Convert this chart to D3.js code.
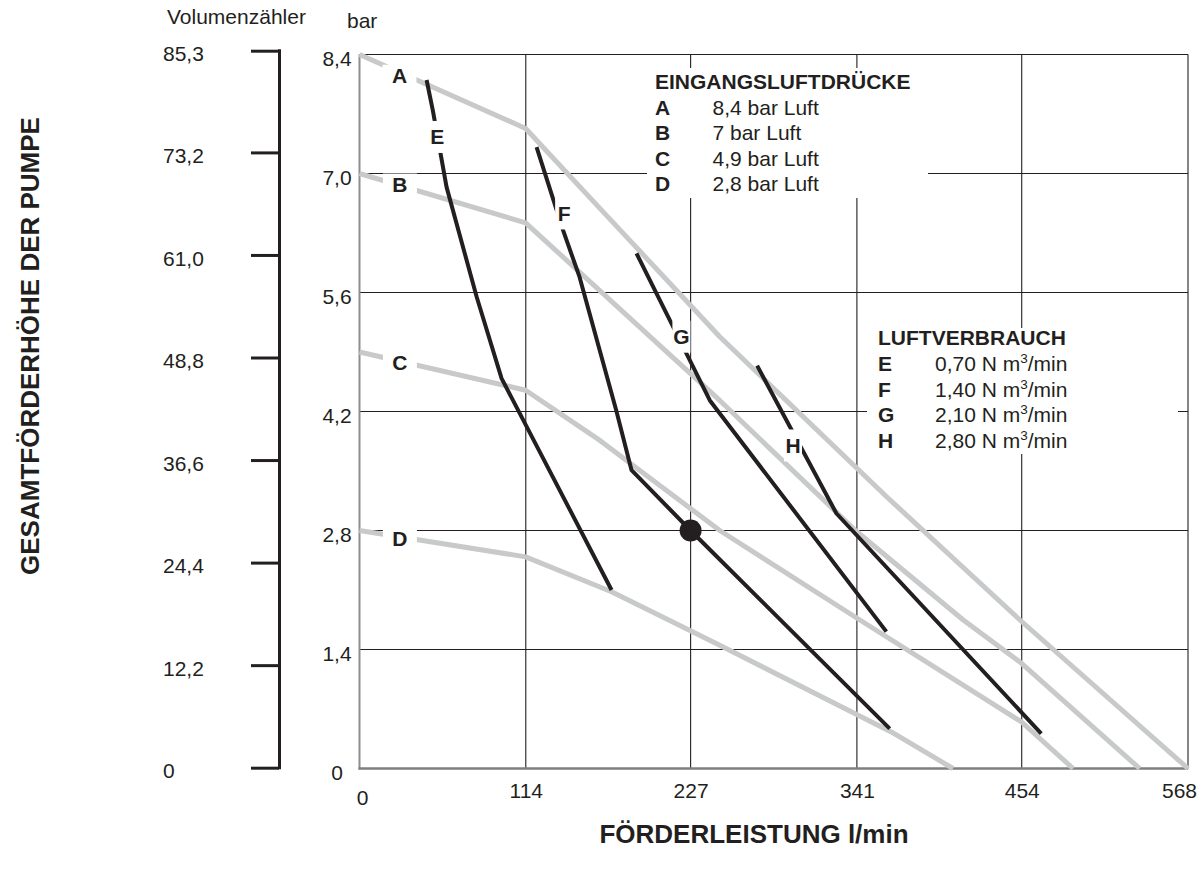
<!DOCTYPE html>
<html><head><meta charset="utf-8">
<script src="https://cdn.jsdelivr.net/npm/d3@7"></script>
<style>
html,body{margin:0;padding:0;background:#fff;}
text{font-family:"Liberation Sans",Arial,Helvetica,sans-serif;fill:#231f20;}
</style></head>
<body>
<svg id="chart" width="1200" height="872"></svg>
<script>
// ---- data ----
const xTicks = [0, 114, 227, 341, 454, 568];
const yTicks = [0, 1.4, 2.8, 4.2, 5.6, 7.0, 8.4];
const yTickLabels = ["0", "1,4", "2,8", "4,2", "5,6", "7,0", "8,4"];
const volTicks = [0, 12.2, 24.4, 36.6, 48.8, 61.0, 73.2, 85.3];
const volTickLabels = ["0", "12,2", "24,4", "36,6", "48,8", "61,0", "73,2", "85,3"];

// air inlet pressure curves (l/min, bar)
const curveA = [[0, 8.4], [113.9, 7.53], [164.8, 6.59], [247, 5.08], [361.2, 3.20], [452.6, 1.75], [568, 0]];
const curveB = [[0, 7.0], [113.9, 6.42], [247, 4.33], [340, 2.8], [413.7, 1.75], [453.7, 1.24], [534.8, 0]];
const curveC = [[0, 4.9], [113.9, 4.45], [164.8, 3.86], [247, 2.80], [342.8, 1.75], [453.7, 0.55], [489.2, 0]];
const curveD = [[0, 2.8], [113.9, 2.49], [172.8, 2.08], [247, 1.45], [364.6, 0.43], [406.9, 0]];
// air consumption curves
const curveE = [[46, 8.1], [50.3, 7.74], [59.7, 6.84], [80.3, 5.55], [97.4, 4.59], [172.8, 2.10]];
const curveF = [[121.4, 7.31], [139.6, 6.33], [150.9, 5.78], [175.9, 4.22], [186.5, 3.51], [227, 2.8], [363.5, 0.47]];
const curveG = [[189.9, 6.06], [240.2, 4.33], [361.2, 1.61]];
const curveH = [[272.6, 4.74], [327, 3.0], [467.4, 0.41]];
const markPoint = [227, 2.8];

const pressureKeys = ["A", "B", "C", "D"];
const pressureText = ["8,4 bar Luft", "7 bar Luft", "4,9 bar Luft", "2,8 bar Luft"];
const airKeys = ["E", "F", "G", "H"];
const airText = ["0,70", "1,40", "2,10", "2,80"];
// curve label anchor points (data units)
const pressureLabelPos = [[27.4, 8.15], [27.7, 6.87], [27.7, 4.78], [27.7, 2.71]];
const airLabelPos = [[53.3, 7.43], [140.3, 6.53], [220.7, 5.08], [297.2, 3.80]];

// ---- drawing ----
const svg = d3.select("#chart");
const x = d3.scaleLinear().domain([0, 568]).range([359.5, 1188]);
const y = d3.scaleLinear().domain([0, 8.4]).range([768.5, 54.5]);
const vol = d3.scaleLinear().domain([0, 85.3]).range([767.7, 50.7]);
const ink = "#231f20", gray = "#c8c9ca";
const tickFont = 21;

// gridlines
const grid = svg.append("g");
grid.selectAll(".gx").data(xTicks.slice(1, -1)).join("line")
  .attr("x1", d => x(d)).attr("x2", d => x(d)).attr("y1", y(0)).attr("y2", y(8.4))
  .attr("stroke", ink).attr("stroke-width", 1.1);
grid.selectAll(".gy").data(yTicks.slice(1, -1)).join("line")
  .attr("x1", x(0)).attr("x2", x(568)).attr("y1", d => y(d)).attr("y2", d => y(d))
  .attr("stroke", ink).attr("stroke-width", 1.1);
// frame
grid.append("line").attr("x1", x(0)).attr("x2", x(568)).attr("y1", y(8.4)).attr("y2", y(8.4)).attr("stroke", ink).attr("stroke-width", 1.1);
grid.append("line").attr("x1", x(568)).attr("x2", x(568)).attr("y1", y(0)).attr("y2", y(8.4)).attr("stroke", ink).attr("stroke-width", 1.1);
grid.append("line").attr("x1", x(0)).attr("x2", x(0)).attr("y1", y(0) + 1).attr("y2", y(8.4)).attr("stroke", "#8e8e8e").attr("stroke-width", 2);
grid.append("line").attr("x1", x(0) - 1).attr("x2", x(568)).attr("y1", y(0)).attr("y2", y(0)).attr("stroke", "#7f7f7f").attr("stroke-width", 2.5);

// legend background boxes
svg.append("rect").attr("x", 647).attr("y", 68).attr("width", 281).attr("height", 130).attr("fill", "#fff");
svg.append("rect").attr("x", 867).attr("y", 328).attr("width", 311).attr("height", 126).attr("fill", "#fff");

const line = d3.line().x(d => x(d[0])).y(d => y(d[1]));
const grayCurves = [curveA, curveB, curveC, curveD];
const blackCurves = [curveE, curveF, curveG, curveH];
svg.append("g").selectAll("path").data(grayCurves).join("path")
  .attr("d", line).attr("fill", "none").attr("stroke", gray).attr("stroke-width", 5)
  .attr("stroke-linejoin", "round");
svg.append("g").selectAll("path").data(blackCurves).join("path")
  .attr("d", line).attr("fill", "none").attr("stroke", ink).attr("stroke-width", 4)
  .attr("stroke-linejoin", "round");
svg.append("circle").attr("cx", x(markPoint[0])).attr("cy", y(markPoint[1])).attr("r", 11).attr("fill", ink);

// curve labels with white gaps
const lab = svg.append("g");
pressureKeys.forEach((k, i) => {
  const px = x(pressureLabelPos[i][0]), py = y(pressureLabelPos[i][1]);
  lab.append("rect").attr("x", px - 17).attr("y", py - 11).attr("width", 34).attr("height", 22).attr("fill", "#fff");
  lab.append("text").attr("x", px).attr("y", py + 7.5).attr("text-anchor", "middle")
    .attr("font-size", 21).attr("font-weight", "bold").text(k);
});
airKeys.forEach((k, i) => {
  const px = x(airLabelPos[i][0]), py = y(airLabelPos[i][1]);
  lab.append("rect").attr("x", px - 9).attr("y", py - 16).attr("width", 18).attr("height", 32).attr("fill", "#fff");
  lab.append("text").attr("x", px).attr("y", py + 7.5).attr("text-anchor", "middle")
    .attr("font-size", 21).attr("font-weight", "bold").text(k);
});

// axes tick labels
const xAxis = d3.axisBottom(x).tickValues(xTicks).tickSize(0).tickPadding(0).tickFormat(d => String(d));
const gx = svg.append("g").attr("transform", "translate(0,798)").call(xAxis);
gx.select(".domain").remove();
gx.selectAll("text").attr("dy", 0).attr("y", 0).attr("font-size", tickFont).attr("fill", ink)
  .attr("font-family", null);
gx.selectAll("text").filter(d => d === 0).attr("y", 7).attr("dx", 2.5);
gx.selectAll("text").filter(d => d === 568).attr("dx", -9);

const yAxis = d3.axisLeft(y).tickValues(yTicks).tickSize(0).tickPadding(0)
  .tickFormat((d, i) => yTickLabels[i]);
const gy = svg.append("g").attr("transform", "translate(337,0)").call(yAxis);
gy.select(".domain").remove();
gy.selectAll("text").attr("text-anchor", "middle").attr("x", 0).attr("dy", "0.5em")
  .attr("font-size", tickFont).attr("fill", ink).attr("font-family", null);

// volume scale (left)
const vAxis = d3.axisLeft(vol).tickValues(volTicks).tickSize(28).tickPadding(0)
  .tickFormat((d, i) => volTickLabels[i]);
const gv = svg.append("g").attr("transform", "translate(279,0)").call(vAxis);
gv.select(".domain").attr("stroke", ink).attr("stroke-width", 3).attr("d", `M0.5,${vol(0) + 1.5}V${vol(85.3) - 1.5}`);
gv.selectAll(".tick line").attr("stroke", ink).attr("stroke-width", 3);
gv.selectAll("text").attr("text-anchor", "start").attr("x", 163 - 279).attr("dy", "0.48em")
  .attr("font-size", tickFont).attr("fill", ink).attr("font-family", null);

// unit labels
svg.append("text").attr("x", 167).attr("y", 24).attr("font-size", tickFont).text("Volumenzähler");
svg.append("text").attr("x", 347).attr("y", 28).attr("font-size", tickFont).text("bar");

// axis titles
svg.append("text").attr("transform", "translate(39,346) rotate(-90)").attr("text-anchor", "middle")
  .attr("font-size", 26).attr("font-weight", "bold").text("GESAMTFÖRDERHÖHE DER PUMPE");
svg.append("text").attr("x", 754).attr("y", 843).attr("text-anchor", "middle")
  .attr("font-size", 26).attr("font-weight", "bold").text("FÖRDERLEISTUNG l/min");

// legend 1
const legFont = 21;
const l1 = svg.append("g");
l1.append("text").attr("x", 655).attr("y", 89).attr("font-size", legFont).attr("font-weight", "bold").text("EINGANGSLUFTDRÜCKE");
pressureKeys.forEach((k, i) => {
  const by = 114.5 + i * 25.5;
  l1.append("text").attr("x", 655).attr("y", by).attr("font-size", legFont).attr("font-weight", "bold").text(k);
  l1.append("text").attr("x", 712.5).attr("y", by).attr("font-size", legFont).text(pressureText[i]);
});
// legend 2
const l2 = svg.append("g");
l2.append("text").attr("x", 878).attr("y", 345).attr("font-size", legFont).attr("font-weight", "bold").text("LUFTVERBRAUCH");
airKeys.forEach((k, i) => {
  const by = 371 + i * 25.5;
  l2.append("text").attr("x", 878).attr("y", by).attr("font-size", legFont).attr("font-weight", "bold").text(k);
  const t = l2.append("text").attr("x", 935).attr("y", by).attr("font-size", legFont);
  t.append("tspan").text(airText[i] + " N m");
  t.append("tspan").attr("font-size", 13.5).attr("dy", -8).text("3");
  t.append("tspan").attr("dy", 8).text("/min");
});
</script>
</body></html>
